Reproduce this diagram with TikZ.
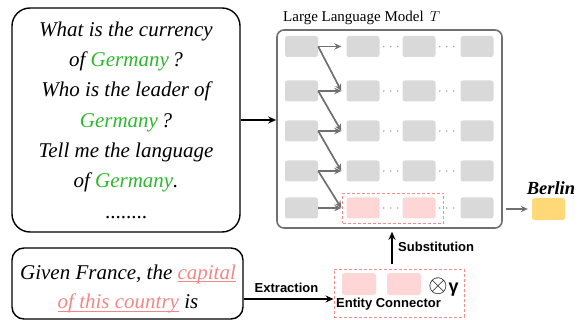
\documentclass[tikz,border=0pt]{standalone}
\usepackage{amsmath,amssymb}
\usepackage{fontspec}
\setmainfont{Liberation Serif}[
  UprightFont={Liberation Serif},
  ItalicFont={Liberation Serif Italic},
  BoldFont={Liberation Serif Bold},
  BoldItalicFont={Liberation Serif Bold Italic}]
\setsansfont{Liberation Sans}
\usetikzlibrary{arrows.meta}
\definecolor{ggreen}{RGB}{45,185,45}
\definecolor{pinktext}{RGB}{242,135,135}
\definecolor{pinkcell}{RGB}{255,214,214}
\definecolor{pinkdash}{RGB}{245,140,140}
\definecolor{graycell}{RGB}{217,217,217}
\definecolor{grayline}{RGB}{112,112,112}
\definecolor{berlinfill}{RGB}{255,216,120}
\newcommand{\myul}[1]{\sbox0{#1}\makebox[0pt][l]{\usebox0}\rule[-3pt]{\wd0}{0.8pt}}
\begin{document}
\begin{tikzpicture}[x=1pt,y=-1pt,
  cell/.style={rectangle, rounded corners=2.5pt, fill=graycell, minimum width=33pt, minimum height=21pt, inner sep=0pt},
  pcell/.style={cell, fill=pinkcell, minimum width=34pt, minimum height=22pt},
  flow/.style={-{Stealth[length=7pt,width=6.5pt]}, line width=1.7pt, draw=grayline},
  blackarrow/.style={-{Stealth[length=8pt,width=7pt]}, line width=1.6pt, draw=black},
  dotline/.style={draw=grayline!60, line width=1.6pt, dash pattern=on 0pt off 7pt, line cap=round},
  pinkbox/.style={draw=pinkdash, line width=0.9pt, dash pattern=on 3pt off 2pt, inner sep=0pt},
  boldlabel/.style={font=\sffamily\bfseries\fontsize{13}{15}\selectfont, inner sep=0pt}
]
\useasboundingbox (0,0) rectangle (580,320);

% left question box
\node[draw, line width=1.4pt, rounded corners=18pt, minimum width=228pt, minimum height=224pt,
  inner sep=0pt, align=center, font=\itshape\fontsize{21}{30.3}\selectfont] (q) at (126,120)
  {What is the currency\\ of \textcolor{ggreen}{Germany}\,?\\ Who is the leader of\\
   \textcolor{ggreen}{Germany}\,?\\ Tell me the language\\ of \textcolor{ggreen}{Germany}.\\
   \upshape........};

% LLM frame
\node[draw=grayline, line width=1.6pt, rounded corners=7pt, minimum width=225pt, minimum height=198pt, inner sep=0pt] (llm) at (389.5,129) {};
\node[anchor=base west, inner sep=0pt, font=\fontsize{15}{18}\selectfont] (title) at (283,22) {Large Language Model \,$T$};

% cells
\foreach \r/\y in {1/46.5,2/91,3/131,4/171}{
  \foreach \c/\x in {1/301.5,2/363,3/419,4/477}{
    \node[cell] (n-\r-\c) at (\x,\y) {};
  }
}
\node[cell] (n-5-1) at (301.5,208) {};
\node[cell, fill=pinkcell] (n-5-2) at (363,208) {};
\node[cell, fill=pinkcell] (n-5-3) at (419,208) {};
\node[cell] (n-5-4) at (477,208) {};
\node[pinkbox, minimum width=101pt, minimum height=30pt] (sel) at (393,208) {};

% dots
\foreach \r in {1,2,3,4,5}{
  \draw[dotline] ([xshift=4pt]n-\r-2.east) -- ([xshift=-3pt]n-\r-3.west);
  \draw[dotline] ([xshift=4pt]n-\r-3.east) -- ([xshift=-3pt]n-\r-4.west);
}

% arrows col1 -> col2
\foreach \r/\s in {1/2,2/3,3/4,4/5}{
  \draw[flow] (n-\r-1.east) -- ([xshift=-5pt]n-\r-2.west);
  \draw[flow] (n-\r-1.east) -- ([xshift=-5pt]n-\s-2.west);
}
\draw[flow] (n-5-1.east) -- ([xshift=-5pt]n-5-2.west);

% output
\node[cell, fill=berlinfill, minimum width=33pt, minimum height=22pt] (berlin) at (548.5,209) {};
\node[anchor=base, inner sep=0pt, font=\bfseries\itshape\fontsize{18.5}{20}\selectfont] (berlinlabel) at (551,195) {Berlin};
\draw[flow, shorten <=3pt, shorten >=4pt] (llm.east |- berlin.west) -- (berlin.west);

% input arrow
\draw[blackarrow] (q.east) -- (q.east -| llm.west);

% bottom box
\node[draw, line width=1.4pt, rounded corners=12pt, minimum width=231pt, minimum height=71pt, inner sep=0pt] (given) at (127.5,283.5) {};
\node[align=center, inner sep=0pt, font=\itshape\fontsize{21}{29.5}\selectfont] (giventext) at (128,289)
  {Given France, the \textcolor{pinktext}{\myul{capital}}\\ \textcolor{pinktext}{\myul{of this country}} is};

% entity connector
\node[pinkbox, minimum width=130pt, minimum height=48pt] (ec) at (399,293) {};
\node[pcell] (e1) at (359,284) {};
\node[pcell] (e2) at (404,284) {};
\node[inner sep=0pt] (gamma) at (443.5,287) {\fontsize{24}{26}\selectfont$\otimes$\hspace{1pt}{\fontsize{18}{20}\selectfont\sffamily\bfseries γ}};
\node[boldlabel] (eclabel) at (388.5,304) {Entity Connector};

% extraction
\coordinate (exy) at (0,299);
\draw[blackarrow] (given.east |- exy) -- (ec.west |- exy);
\node[boldlabel] (extraction) at (286.5,288) {Extraction};

% substitution
\coordinate (sub) at (392,264);
\draw[blackarrow, shorten >=3pt] (sub) -- (sub |- llm.south);
\node[boldlabel, anchor=west] (substitution) at (398,247) {Substitution};
\end{tikzpicture}
\end{document}
